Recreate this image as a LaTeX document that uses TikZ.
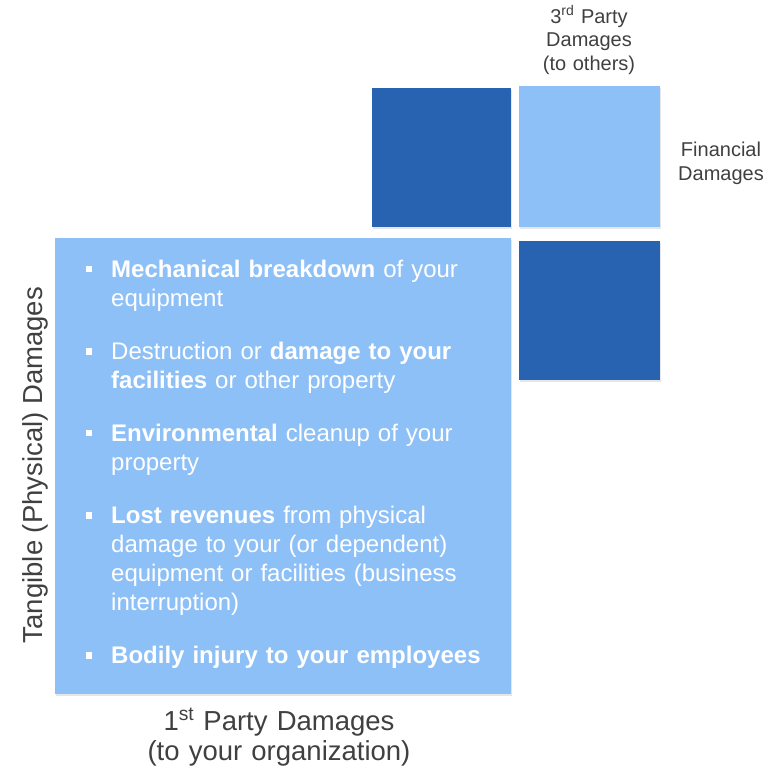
\documentclass[tikz,border=0pt]{standalone}
\usepackage{fontspec}
\setmainfont{Liberation Sans}
\usetikzlibrary{shadows}
\definecolor{deepblue}{HTML}{2763B0}
\definecolor{paleblue}{HTML}{8EC0F8}
\definecolor{labelgray}{HTML}{404040}

\begin{document}
\begin{tikzpicture}[x=1pt,y=-1pt,
  tile/.style={inner sep=0pt, outer sep=0pt, anchor=north west, draw=none,
    drop shadow={shadow xshift=1pt, shadow yshift=-2pt, opacity=0.2}},
  darktile/.style={tile, fill=deepblue},
  lighttile/.style={tile, fill=paleblue},
  axislabel/.style={text=labelgray, align=center, inner sep=0pt},
  smalllabel/.style={axislabel, text width=160pt, font=\fontsize{20}{23.5}\selectfont},
  biglabel/.style={axislabel, font=\fontsize{27.5}{30}\selectfont},
  itemtext/.style={anchor=base west, inner sep=0pt, text=white, text width=400pt,
    align=left, font=\fontsize{24}{29}\selectfont},
  bulletsq/.style={fill=white, inner sep=0pt, minimum size=6.5pt, draw=none}
]
\useasboundingbox (0,0) rectangle (769,768);

% quadrant tiles
\node[darktile, minimum width=139pt, minimum height=139pt] (finfirst) at (372,88) {};
\node[lighttile, minimum width=141pt, minimum height=141pt] (finthird) at (519,86) {};
\node[darktile, minimum width=141pt, minimum height=139pt] (tanthird) at (519,241) {};
\node[lighttile, minimum width=456pt, minimum height=456pt] (tanfirst) at (55,238) {};

% axis labels
\node[smalllabel, anchor=base] (thirdlbl) at (589,23.3)
  {3\textsuperscript{rd} Party\\Damages\\(to others)};
\node[smalllabel, anchor=base] (finlbl) at (721,156.7)
  {Financial\\Damages};
\node[biglabel, text width=400pt, anchor=base] (firstlbl) at (279,730)
  {1\textsuperscript{st} Party Damages\\(to your organization)};
\node[biglabel, anchor=base, rotate=90] (tanlbl) at (42,465)
  {Tangible (Physical) Damages};

% bullet list inside the first-party tangible box
\node[bulletsq] (b1) at (89,269) {};
\node[itemtext] (i1) at (111,277)
  {\bfseries Mechanical breakdown\mdseries{} of your\\equipment};
\node[bulletsq] (b2) at (89,351.5) {};
\node[itemtext] (i2) at (111,359.5)
  {Destruction or \bfseries damage to your\\facilities\mdseries{} or other property};
\node[bulletsq] (b3) at (89,433) {};
\node[itemtext] (i3) at (111,441)
  {\bfseries Environmental\mdseries{} cleanup of your\\property};
\node[bulletsq] (b4) at (89,515.5) {};
\node[itemtext] (i4) at (111,523.5)
  {\bfseries Lost revenues\mdseries{} from physical\\damage to your (or dependent)\\equipment or facilities (business\\interruption)};
\node[bulletsq] (b5) at (89,655.5) {};
\node[itemtext] (i5) at (111,663.5)
  {\bfseries Bodily injury to your employees};
\end{tikzpicture}
\end{document}
